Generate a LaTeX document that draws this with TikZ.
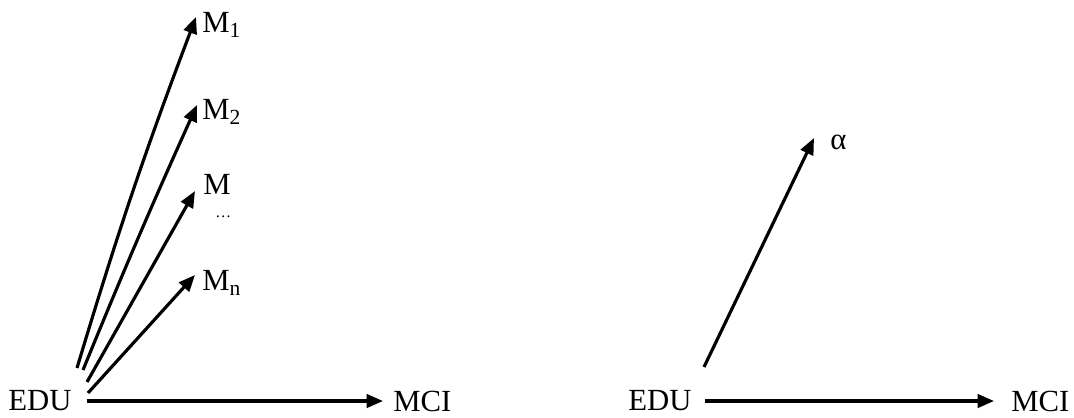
\documentclass[tikz,border=0pt]{standalone}
\usepackage{fontspec}
\setmainfont{Liberation Serif}
\usetikzlibrary{arrows.meta,positioning}
\tikzset{
  >={Triangle[length=3.3mm,width=2.7mm]},
  every node/.style={font=\fontsize{17.5}{20}\selectfont},
  var/.style={inner sep=0pt, anchor=west},
  flow/.style={->, draw=black, line width=1.8pt},
}
\begin{document}
\begin{tikzpicture}[x=0.02cm, y=-0.02cm]
\useasboundingbox (0,0) rectangle (1074,417);

% ───────────── many mediators ─────────────
\node[var] (edu) at (8,401) {EDU};
\node[var] (mci) at (393,401) {MCI};
\node[var] (m1) at (202,25) {M\textsubscript{1}};
\node[var] (m2) at (202,112) {M\textsubscript{2}};
\node[var] (mk) at (203,184) {M};
\node[var] (dots) at (215,217) {\fontsize{9}{10}\selectfont\dots};
\node[var] (mn) at (202,283) {M\textsubscript{n}};

\coordinate (s1) at (77,368);
\coordinate (s2) at (83,370);
\coordinate (s3) at (87,382);
\coordinate (s4) at (88,393);
\coordinate (t1) at (196,17);
\coordinate (t2) at (197,105);
\coordinate (t3) at (195,191);
\coordinate (t4) at (195,275);

\draw[flow] (s1) to[bend left=2] (t1);
\draw[flow] (s2) to[bend left=1] (t2);
\draw[flow] (s3) -- (t3);
\draw[flow] (s4) -- (t4);
\draw[flow, shorten <=0.3cm, shorten >=0.2cm] (edu.east) -- (mci.west);

% ───────────── one path ─────────────
\node[var] (edu2) at (628,401) {EDU};
\node[var] (mci2) at (1011,401) {MCI};
\node[var] (alpha) at (830,142) {α};
\coordinate (s5) at (704,367);
\coordinate (t5) at (814,138);

\draw[flow] (s5) -- (t5);
\draw[flow, shorten <=0.26cm, shorten >=0.34cm] (edu2.east) -- (mci2.west);

\end{tikzpicture}
\end{document}
